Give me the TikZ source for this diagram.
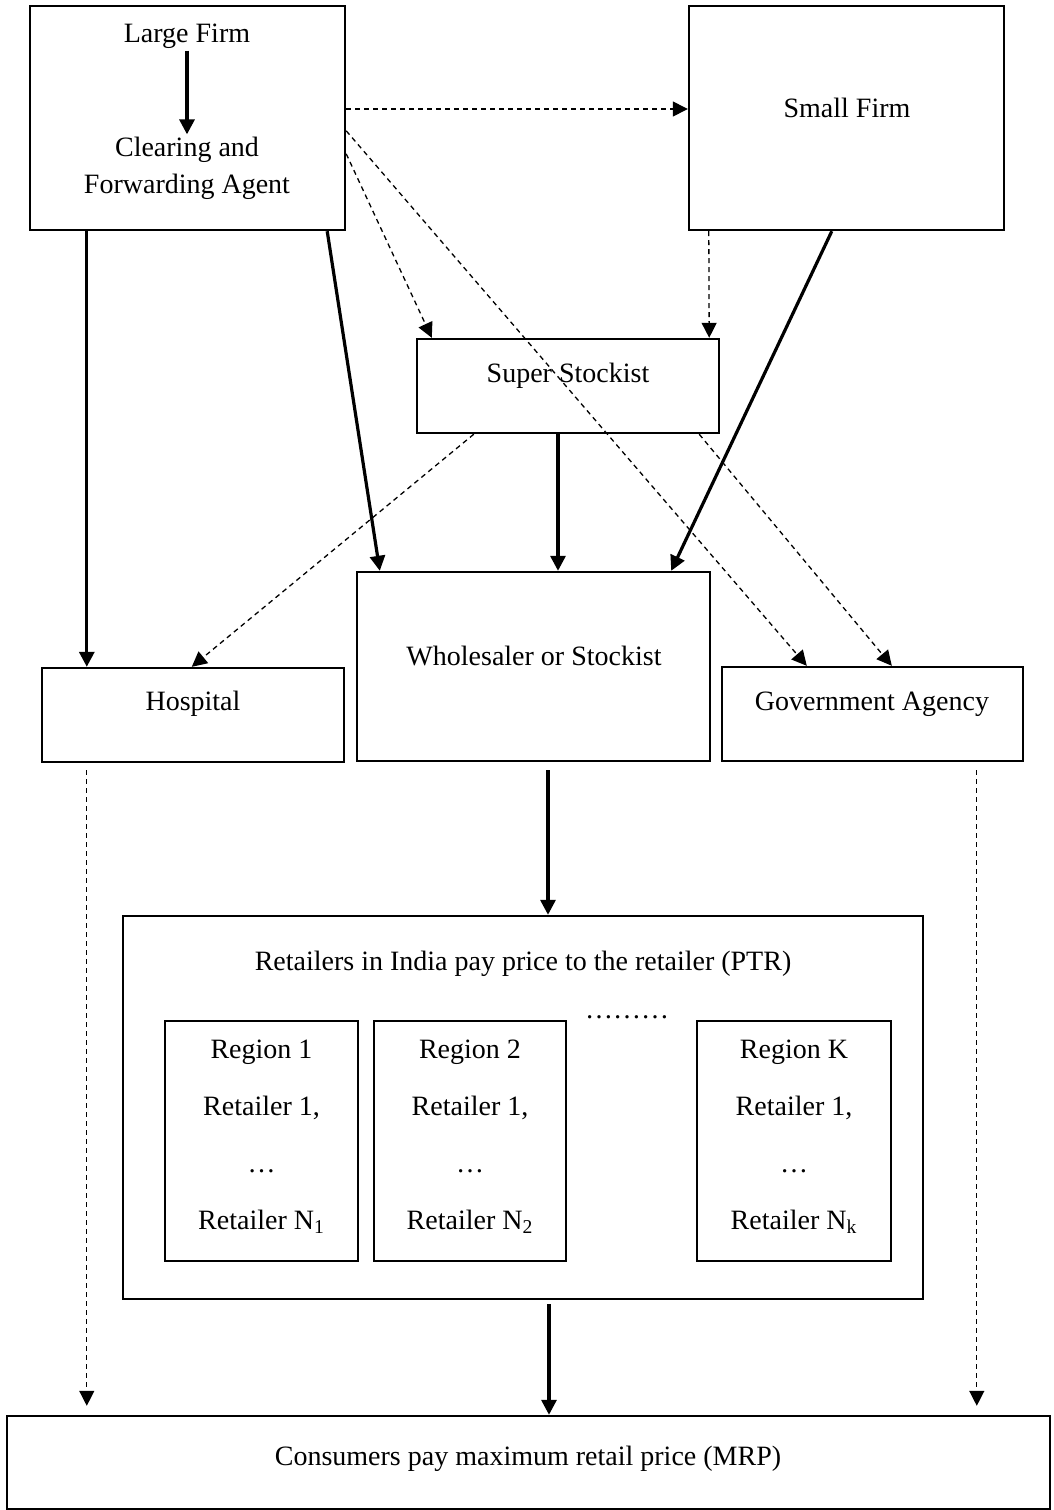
\documentclass[tikz,border=0pt]{standalone}
\usepackage{fontspec}
\setmainfont{Liberation Serif}
\usetikzlibrary{arrows.meta,calc}

\tikzset{
	box/.style={draw, line width=1.2pt, inner sep=0pt},
	txt/.style={font=\fontsize{14}{18.5}\selectfont, align=center, inner sep=1pt},
	regiontxt/.style={font=\fontsize{14}{28.5}\selectfont, align=center, inner sep=1pt},
	solidarrow/.style={line width=1.6pt, -{Triangle[length=7.5pt,width=7.5pt]}},
	dasharrow/.style={line width=0.65pt, dash pattern=on 2.5pt off 2pt, -{Triangle[length=7.5pt,width=7.5pt]}}
}

\begin{document}
\begin{tikzpicture}[x=0.5pt, y=-0.5pt]
			\useasboundingbox (0,0) rectangle (1054,1510);
			
			%Firms
			\node[box, minimum width=157.5pt, minimum height=112pt] (large) at (187.5,118) {};
			\node[txt] (largetxt) at (187,36) {Large Firm};
			\node[txt] (cfa) at (187,168) {Clearing and\\Forwarding Agent};
			\node[box, minimum width=157.5pt, minimum height=112pt] (small) at (846.5,118) {};
			\node[txt] (smalltxt) at (847,108) {Small Firm};
			
			%Stockists
			\node[box, minimum width=151pt, minimum height=47pt] (super) at (568,386) {};
			\node[txt] (supertxt) at (568,376) {Super Stockist};
			\node[box, minimum width=176.5pt, minimum height=94.5pt] (whole) at (533.5,666.5) {};
			\node[txt] (wholetxt) at (534,656) {Wholesaler or Stockist};
			
			%Hospital and Government
			\node[box, minimum width=151pt, minimum height=47pt] (hosp) at (193,715) {};
			\node[txt] (hosptxt) at (193,704) {Hospital};
			\node[box, minimum width=150.5pt, minimum height=47pt] (gov) at (872.5,714) {};
			\node[txt] (govtxt) at (872,704) {Government Agency};
			
			%Retailers
			\node[box, minimum width=400pt, minimum height=191.5pt] (retail) at (523,1107.5) {};
			\node[txt] (retailtxt) at (523,964) {Retailers in India pay price to the retailer (PTR)};
			\node[box, minimum width=96.5pt, minimum height=120pt] (reg1) at (261.5,1141) {};
			\node[regiontxt] (reg1txt) at (261.5,1137) {Region 1\\Retailer 1,\\\dots\\Retailer N\textsubscript{1}};
			\node[box, minimum width=96pt, minimum height=120pt] (reg2) at (470,1141) {};
			\node[regiontxt] (reg2txt) at (470,1137) {Region 2\\Retailer 1,\\\dots\\Retailer N\textsubscript{2}};
			\node[txt, anchor=base] (dots) at (627,1018) {\dots\dots\dots};
			\node[box, minimum width=97pt, minimum height=120pt] (regk) at (794,1141) {};
			\node[regiontxt] (regktxt) at (794,1137) {Region K\\Retailer 1,\\\dots\\Retailer N\textsubscript{k}};
			
			%Consumers
			\node[box, minimum width=521.5pt, minimum height=46.5pt] (cons) at (528.5,1462.5) {};
			\node[txt] (constxt) at (528,1459) {Consumers pay maximum retail price (MRP)};
			
			%Solid lines
			\draw[solidarrow] (largetxt) -- (cfa);
			\draw[solidarrow] ($(large.south west)+(58,0)$) -- ($(hosp.north west)+(46,0)$);
			\draw[solidarrow] ($(large.south east)+(-19,0)$) -- ($(whole.north west)+(24,0)$);
			\draw[solidarrow] ($(small.south west)+(144,0)$) -- ($(whole.north east)+(-40,0)$);
			\draw[solidarrow] ($(super.south)+(-10,0)$) -- ($(whole.north)+(24.5,0)$);
			\draw[solidarrow] ($(whole.south)+(14.5,8)$) -- ($(retail.north)+(25,0)$);
			\draw[solidarrow] ($(retail.south)+(26,4)$) -- ($(cons.north)+(20.5,0)$);
			
			%Dashed lines
			\draw[dasharrow] ($(large.east)+(0,-9)$) -- ($(small.west)+(0,-9)$);
			\draw[dasharrow] ($(large.north east)+(0,149)$) -- ($(super.north west)+(16,0)$);
			\draw[dasharrow] ($(large.north east)+(0,126)$) -- ($(gov.north west)+(86,0)$);
			\draw[dasharrow] ($(small.south west)+(21,0)$) -- ($(super.north east)+(-11,0)$);
			\draw[dasharrow] ($(super.south west)+(58,0)$) -- ($(hosp.north west)+(151,0)$);
			\draw[dasharrow] ($(super.south east)+(-21,0)$) -- ($(gov.north west)+(171,0)$);
			\draw[dasharrow] ($(hosp.south west)+(46,7)$) -- ($(cons.north west)+(81,-9)$);
			\draw[dasharrow] ($(gov.south west)+(256,8)$) -- ($(cons.north west)+(971,-9)$);
\end{tikzpicture}
\end{document}
